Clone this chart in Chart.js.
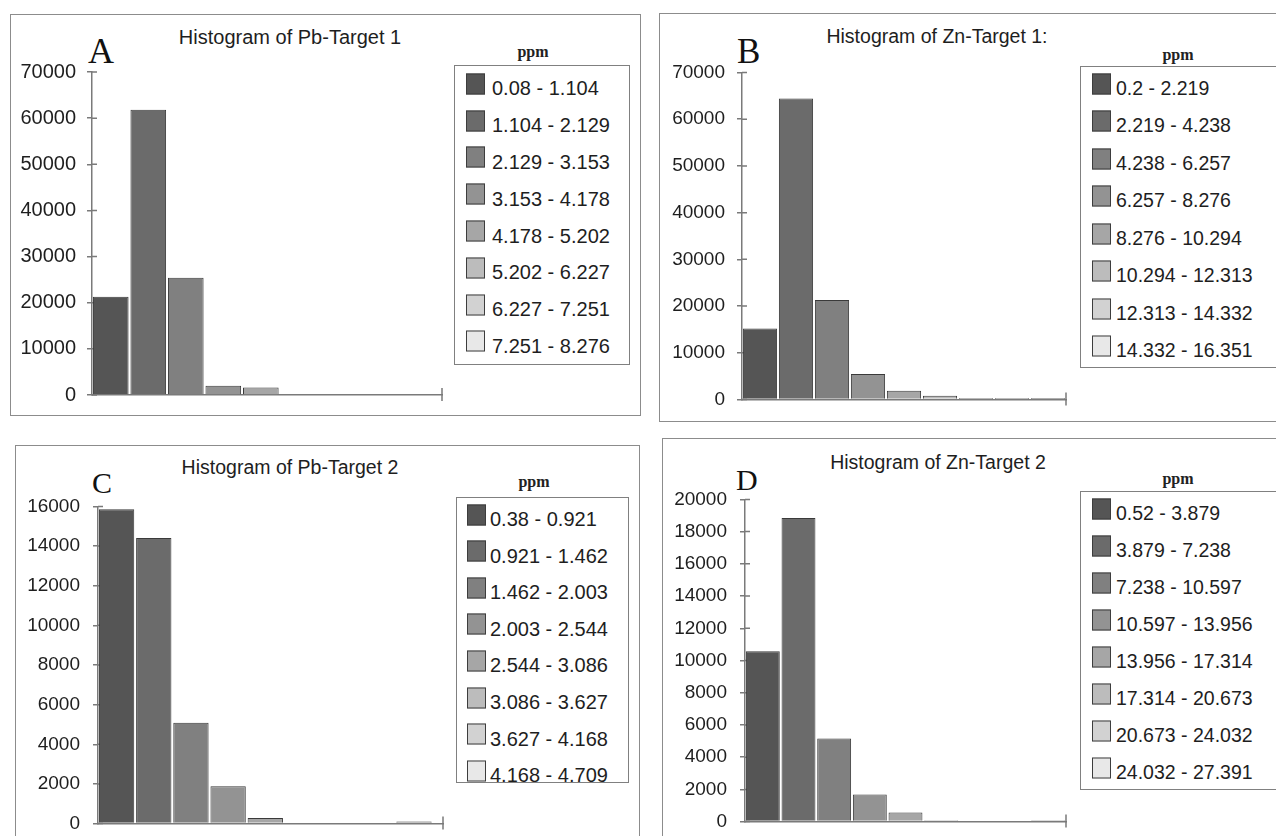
<!DOCTYPE html>
<html><head><meta charset="utf-8">
<script src="https://cdn.jsdelivr.net/npm/chart.js@4/dist/chart.umd.min.js"></script>
<style>
html,body{margin:0;padding:0;background:#fff;width:1276px;height:836px;overflow:hidden;position:relative;font-family:"Liberation Sans",Arial,sans-serif;color:#1e1e1e}
.panel{position:absolute;border:1.5px solid #8c8c8c;box-sizing:border-box}
.title{position:absolute;white-space:nowrap;transform:translate(-50%,-50%);line-height:1}
.letter{position:absolute;font-family:"Liberation Serif","Times New Roman",serif;line-height:1;color:#111;white-space:nowrap}
.ppm{position:absolute;font-family:"Liberation Serif","Times New Roman",serif;font-weight:bold;font-size:16px;transform:translate(-50%,-50%);line-height:1;color:#222}
.lbox{position:absolute;border:1.5px solid #808080;box-sizing:border-box}
.item{position:absolute;white-space:nowrap;line-height:1;transform:translateY(-50%)}
.sw{position:absolute;border:1px solid #3d3d3d;box-sizing:border-box;width:19px;height:21px;transform:translateY(-50%)}
canvas{position:absolute}
</style></head><body>
<script>
// ---------- data ----------
const pbT1Classes = ['0.08 - 1.104','1.104 - 2.129','2.129 - 3.153','3.153 - 4.178','4.178 - 5.202','5.202 - 6.227','6.227 - 7.251','7.251 - 8.276'];
const pbT1Counts  = [21300, 61800, 25400, 2000, 1600, 0, 0, 0, 0];

const znT1Classes = ['0.2 - 2.219','2.219 - 4.238','4.238 - 6.257','6.257 - 8.276','8.276 - 10.294','10.294 - 12.313','12.313 - 14.332','14.332 - 16.351'];
const znT1Counts  = [15200, 64400, 21300, 5500, 1900, 800, 350, 350, 350];

const pbT2Classes = ['0.38 - 0.921','0.921 - 1.462','1.462 - 2.003','2.003 - 2.544','2.544 - 3.086','3.086 - 3.627','3.627 - 4.168','4.168 - 4.709'];
const pbT2Counts  = [15850, 14400, 5090, 1890, 280, 0, 0, 0, 100];

const znT2Classes = ['0.52 - 3.879','3.879 - 7.238','7.238 - 10.597','10.597 - 13.956','13.956 - 17.314','17.314 - 20.673','20.673 - 24.032','24.032 - 27.391'];
const znT2Counts  = [10570, 18840, 5160, 1680, 560, 90, 0, 0, 90];

const titles  = ['Histogram of Pb-Target 1','Histogram of Zn-Target 1:','Histogram of Pb-Target 2','Histogram of Zn-Target 2'];
const letters = ['A','B','C','D'];
const legendTitle = 'ppm';
const yTicksTarget1 = {max:70000, step:10000};
const yTicksTarget2Pb = {max:16000, step:2000};
const yTicksTarget2Zn = {max:20000, step:2000};

const binColors = ['#555555','#6b6b6b','#808080','#939393','#a6a6a6','#bcbcbc','#d2d2d2','#e8e8e8','#9a9a9a'];

// ---------- layout ----------
const FONT = '"Liberation Sans", Arial, sans-serif';
const panels = [
  {counts:pbT1Counts, classes:pbT1Classes, title:titles[0], letter:letters[0], yt:yTicksTarget1,
   box:[10,14,631,402], titleXY:[290,37], titleFs:20, letterXY:[88,63], letterFs:36,
   cv:[12,49,440,369], yw:80, xMax:9.33, fs:20, lblPad:11,
   lbox:[454,65,176,300], ppmXY:[533,52], sw0:83.8, swStep:36.8, txOff:4.5, swX:466, txX:492, legFs:20},
  {counts:znT1Counts, classes:znT1Classes, title:titles[1], letter:letters[1], yt:yTicksTarget1,
   box:[659,13,625,409], titleXY:[937,37], titleFs:19.5, letterXY:[737,63], letterFs:35,
   cv:[662,49,414,374], yw:80, xMax:9, fs:19, lblPad:12,
   lbox:[1080,66,200,302], ppmXY:[1178,55], sw0:83.5, swStep:37.5, txOff:5, swX:1092, txX:1116, legFs:19.5},
  {counts:pbT2Counts, classes:pbT2Classes, title:titles[2], letter:letters[2], yt:yTicksTarget2Pb,
   box:[15,445,625,400], titleXY:[290,468], titleFs:19.5, letterXY:[92,493], letterFs:30,
   cv:[18,482,435,366], yw:80, xMax:9.28, fs:19, lblPad:13,
   lbox:[456,497,173,286], ppmXY:[534,482], sw0:514.5, swStep:36.6, txOff:4.5, swX:467, txX:490, legFs:20},
  {counts:znT2Counts, classes:znT2Classes, title:titles[3], letter:letters[3], yt:yTicksTarget2Zn,
   box:[662,438,625,410], titleXY:[938,463], titleFs:19.5, letterXY:[736,490], letterFs:30,
   cv:[665,475,411,371], yw:80, xMax:9, fs:19, lblPad:13,
   lbox:[1080,491,200,299], ppmXY:[1178,479], sw0:508.8, swStep:37, txOff:5.4, swX:1092, txX:1116, legFs:19.5}
];

function el(cls, css, text){
  const d = document.createElement('div');
  d.className = cls;
  Object.assign(d.style, css);
  if (text !== undefined) d.textContent = text;
  document.body.appendChild(d);
  return d;
}

const axisTicks = {
  id:'axisTicks',
  beforeDatasetsDraw(chart){
    const {ctx, chartArea:a, scales:{y}} = chart;
    ctx.save();
    ctx.strokeStyle = '#7a7a7a';
    ctx.lineWidth = 1.5;
    ctx.beginPath();
    y.ticks.forEach((t,i)=>{ const py = y.getPixelForTick(i); ctx.moveTo(a.left,py); ctx.lineTo(a.left+5,py); });
    ctx.moveTo(a.right, a.bottom-7); ctx.lineTo(a.right, a.bottom+6);
    ctx.stroke();
    ctx.restore();
  }
};

panels.forEach(p=>{
  const [bx,by,bw,bh] = p.box;
  el('panel',{left:bx+'px',top:by+'px',width:bw+'px',height:bh+'px'});
  el('title',{left:p.titleXY[0]+'px',top:p.titleXY[1]+'px',fontSize:p.titleFs+'px'}, p.title);
  el('letter',{left:p.letterXY[0]+'px',top:(p.letterXY[1]-0.8375*p.letterFs)+'px',fontSize:p.letterFs+'px'}, p.letter);
  el('ppm',{left:p.ppmXY[0]+'px',top:p.ppmXY[1]+'px'}, legendTitle);
  const [lx,ly,lw,lh] = p.lbox;
  el('lbox',{left:lx+'px',top:ly+'px',width:lw+'px',height:lh+'px'});
  p.classes.forEach((c,i)=>{
    const cy = p.sw0 + i*p.swStep;
    el('sw',{left:p.swX+'px',top:cy+'px',background:binColors[i]});
    el('item',{left:p.txX+'px',top:(cy+p.txOff)+'px',fontSize:p.legFs+'px'}, c);
  });

  const [cx,cyy,cw,ch] = p.cv;
  const cv = document.createElement('canvas');
  cv.width = cw; cv.height = ch;
  Object.assign(cv.style,{left:cx+'px',top:cyy+'px',width:cw+'px',height:ch+'px'});
  document.body.appendChild(cv);

  new Chart(cv,{
    type:'bar',
    data:{datasets:[{
      data:p.counts.map((v,i)=>({x:i+0.5,y:v})),
      backgroundColor:binColors,
      borderColor:'#3a3a3a',
      borderWidth:1,
      barPercentage:0.95,
      categoryPercentage:1
    }]},
    options:{
      responsive:false, animation:false, devicePixelRatio:1,
      layout:{padding:{left:0,top:20,right:10,bottom:10}},
      plugins:{legend:{display:false},tooltip:{enabled:false},title:{display:false}},
      scales:{
        x:{type:'linear',offset:false,min:0,max:p.xMax,
           ticks:{display:false,stepSize:1},
           grid:{display:false},
           border:{display:true,color:'#7a7a7a',width:1.5},
           afterBuildTicks:s=>{ s.ticks = s.ticks.filter(t=>Number.isInteger(t.value)); },
           afterFit:s=>{ s.height = 0; }},
        y:{type:'linear',min:0,max:p.yt.max,
           ticks:{stepSize:p.yt.step,padding:p.lblPad,color:'#1e1e1e',font:{family:FONT,size:p.fs},callback:v=>String(v)},
           grid:{drawOnChartArea:false,drawTicks:true,tickLength:5,color:'#7a7a7a',lineWidth:1.5},
           border:{display:true,color:'#7a7a7a',width:1.5},
           afterFit:s=>{ s.width = p.yw; }}
      }
    },
    plugins:[axisTicks]
  });
});
</script>
</body></html>
